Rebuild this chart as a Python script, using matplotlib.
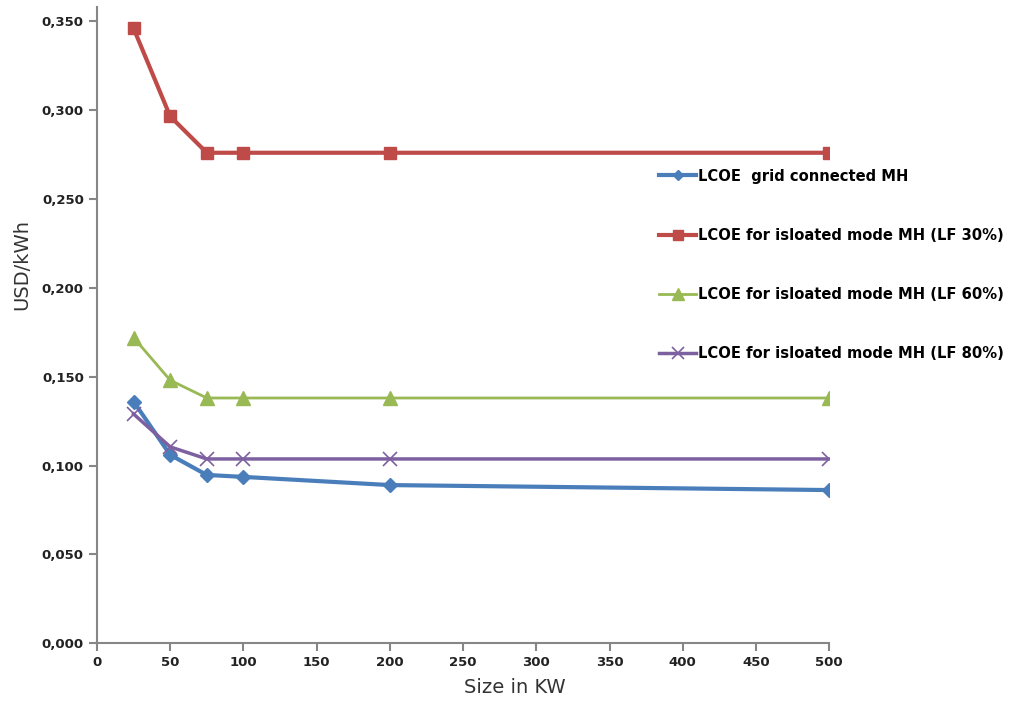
import matplotlib
matplotlib.use("Agg")
import matplotlib.pyplot as plt
from matplotlib.ticker import FuncFormatter

# data
size_kw = [25, 50, 75, 100, 200, 500]
lcoe_grid = [0.136, 0.106, 0.0947, 0.0936, 0.089, 0.0862]
lcoe_lf30 = [0.346, 0.2965, 0.276, 0.276, 0.276, 0.276]
lcoe_lf60 = [0.172, 0.148, 0.138, 0.138, 0.138, 0.138]
lcoe_lf80 = [0.129, 0.1105, 0.1037, 0.1037, 0.1037, 0.1037]
labels = ["LCOE  grid connected MH",
          "LCOE for isloated mode MH (LF 30%)",
          "LCOE for isloated mode MH (LF 60%)",
          "LCOE for isloated mode MH (LF 80%)"]

fig = plt.figure(figsize=(10.1, 7.03), dpi=100)
ax = fig.add_axes([0.096, 0.085, 0.725, 0.905])

ax.plot(size_kw, lcoe_grid, color='#4A7EBB', lw=3, marker='D', ms=7, label=labels[0])
ax.plot(size_kw, lcoe_lf30, color='#BE4B48', lw=3, marker='s', ms=9, label=labels[1])
ax.plot(size_kw, lcoe_lf60, color='#98B954', lw=2, marker='^', ms=10, label=labels[2])
ax.plot(size_kw, lcoe_lf80, color='#7D60A0', lw=2.5, marker='x', ms=10, mew=1.2,
        label=labels[3])

ax.set_xlim(0, 500)
ax.set_ylim(0, 0.358)
ax.set_xticks(range(0, 501, 50))
ax.set_yticks([0, 0.05, 0.1, 0.15, 0.2, 0.25, 0.3, 0.35])
ax.yaxis.set_major_formatter(FuncFormatter(lambda v, p: f"{v:.3f}".replace('.', ',')))

for s in ['top', 'right']:
    ax.spines[s].set_visible(False)
for s in ['left', 'bottom']:
    ax.spines[s].set_color('#868686')
    ax.spines[s].set_linewidth(1.5)
ax.tick_params(colors='#868686', width=1.5, length=6, labelcolor='#222222', labelsize=9.5)
for t in ax.get_xticklabels() + ax.get_yticklabels():
    t.set_fontweight('semibold')

ax.set_xlabel("Size in KW", fontsize=14, color='#333333')
ax.xaxis.set_label_coords(0.57, -0.055)
ax.set_ylabel("USD/kWh", fontsize=14, color='#333333')
ax.yaxis.set_label_coords(-0.09, 0.595)

leg = ax.legend(loc='upper left', bbox_to_anchor=(0.75, 0.767), frameon=False,
                labelspacing=3.0, handlelength=2.5, handletextpad=0.1,
                markerscale=0.8, prop={'size': 10.6, 'weight': 'semibold'})

fig.savefig("out.png", dpi=100)
